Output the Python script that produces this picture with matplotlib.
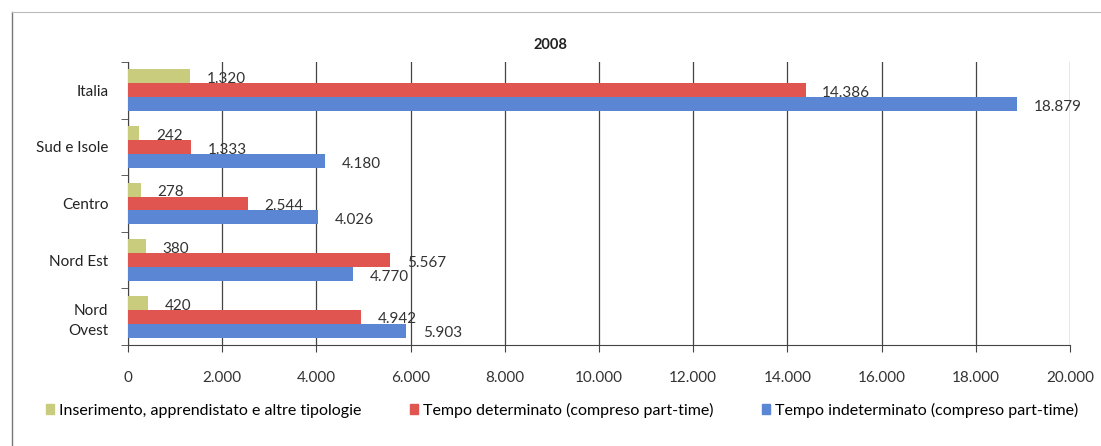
import matplotlib
matplotlib.use("Agg")
import matplotlib.pyplot as plt
import numpy as np
from matplotlib.patches import Rectangle
from matplotlib.lines import Line2D

plt.rcParams['font.family'] = ['Lato', 'DejaVu Sans']

categories = ["Nord\nOvest", "Nord Est", "Centro", "Sud e Isole", "Italia"]
inserimento = [420, 380, 278, 242, 1320]
determinato = [4942, 5567, 2544, 1333, 14386]
indeterminato = [5903, 4770, 4026, 4180, 18879]
series_names = ["Inserimento, apprendistato e altre tipologie",
                "Tempo determinato (compreso part-time)",
                "Tempo indeterminato (compreso part-time)"]
colors = ["#c9cc7c", "#e05550", "#5a86d4"]
xticks = [0, 2000, 4000, 6000, 8000, 10000, 12000, 14000, 16000, 18000, 20000]

def fmt(v):
    return f"{v:,}".replace(",", ".")

fig = plt.figure(figsize=(11.01, 4.46), dpi=100)
ax = fig.add_axes([128/1101, 1-345/446, (1070-128)/1101, (345-62)/446])

y = np.arange(len(categories))
h = 0.245
series = [inserimento, determinato, indeterminato]
offsets = [h, 0, -h]
for vals, off, c in zip(series, offsets, colors):
    ax.barh(y + off, vals, height=h, color=c, zorder=3)
    for yi, v in zip(y, vals):
        ax.annotate(fmt(v), (v, yi + off), xytext=(12, -2), textcoords='offset points',
                    va='center', ha='left', fontsize=11, color='#333333', zorder=4)

ax.set_xlim(0, 20000)
ax.set_ylim(-0.5, len(categories) - 0.5)
ax.set_xticks(xticks)
ax.set_xticklabels([fmt(t) for t in xticks], fontsize=11, color='#333333')
ax.set_yticks(y)
ax.set_yticklabels(categories, fontsize=11, color='#222222', linespacing=1.5)
ax.set_yticks(np.arange(-0.5, len(categories)), minor=True)
ax.tick_params(axis='y', which='major', length=0, pad=14)
ax.tick_params(axis='y', which='minor', length=5, color='#444444')
ax.tick_params(axis='x', length=5, color='#444444', pad=14)
ax.grid(axis='x', color='#444444', linewidth=0.9, zorder=0)
for s in ['top', 'right']:
    ax.spines[s].set_visible(False)
ax.spines['left'].set_color('#444444')
ax.spines['bottom'].set_color('#444444')

fig.text(550/1101, 1-45/446, "2008", ha='center', va='center', fontsize=10.5,
         fontweight='bold', color='#222222')

handles = [Rectangle((0, 0), 1, 1, color=c) for c in colors]
fig.legend(handles, series_names, loc='center', bbox_to_anchor=(562/1101, 1-410/446),
           ncol=3, frameon=False, fontsize=11.5, handlelength=0.55, handleheight=0.55,
           columnspacing=3.0, handletextpad=0.3)

fig.add_artist(Line2D([12/1101, 12/1101], [0, 1-12/446], transform=fig.transFigure,
                      color='#777777', linewidth=1.0))
fig.add_artist(Line2D([12/1101, 1], [1-12/446, 1-12/446], transform=fig.transFigure,
                      color='#bbbbbb', linewidth=0.8))

fig.savefig("out.png", dpi=100)
